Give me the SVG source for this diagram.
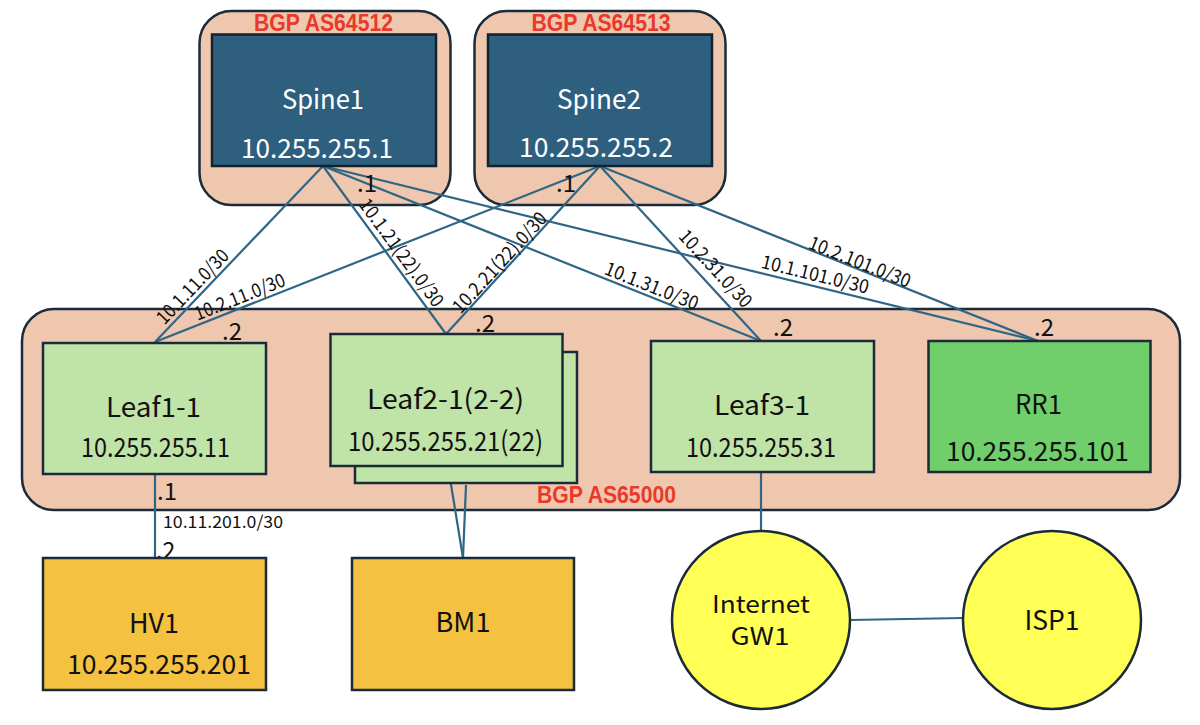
<svg xmlns="http://www.w3.org/2000/svg" width="1200" height="725" viewBox="0 0 1200 725">
<style>
.grp{fill:#EEC7AE;stroke:#1B2B3A;stroke-width:2.5}
.spine{fill:#2E5F7F;stroke:#14222E;stroke-width:2.5}
.leaf{fill:#C0E3A7;stroke:#1B2B3A;stroke-width:2.5}
.rr{fill:#70CF6A;stroke:#1B2B3A;stroke-width:2.5}
.srv{fill:#F4C141;stroke:#1B2B3A;stroke-width:2.5}
.ext{fill:#FFFF55;stroke:#1B2B3A;stroke-width:2.5}
.ln{stroke:#2F6585;stroke-width:2.2;fill:none}
text{font-family:'Noto Sans CJK JP','Noto Sans',sans-serif;fill:#111}
.as{font-family:'Liberation Sans',Arial,sans-serif;font-weight:bold;font-size:23px;fill:#E8392A;text-anchor:middle}
.nm{font-size:27px;text-anchor:middle}
.ip{font-size:27px;text-anchor:middle}
.gw{font-size:24px;text-anchor:middle}
.w{fill:#FFFFFF}
.sub{font-size:24px}
.el{font-size:19px;text-anchor:middle}
.el2{font-size:17px;text-anchor:middle}
</style>

<g id="as64512">
<rect class="grp" x="199.5" y="11" width="251" height="194" rx="32"/>
<text class="as" x="323.5" y="31" textLength="139" lengthAdjust="spacingAndGlyphs">BGP AS64512</text>
</g>
<g id="as64513">
<rect class="grp" x="474.5" y="11" width="251" height="194" rx="32"/>
<text class="as" x="601" y="31" textLength="139" lengthAdjust="spacingAndGlyphs">BGP AS64513</text>
</g>
<g id="as65000">
<rect class="grp" x="22" y="309" width="1158" height="201" rx="32"/>
<text class="as" x="606.5" y="503" textLength="139" lengthAdjust="spacingAndGlyphs">BGP AS65000</text>
</g>

<g id="connectors">
<line class="ln" x1="323" y1="166" x2="155" y2="342"/>
<line class="ln" x1="323" y1="166" x2="446" y2="334"/>
<line class="ln" x1="323" y1="166" x2="761" y2="341"/>
<line class="ln" x1="323" y1="166" x2="1038" y2="341"/>
<line class="ln" x1="600" y1="166" x2="155" y2="342"/>
<line class="ln" x1="600" y1="166" x2="446" y2="334"/>
<line class="ln" x1="600" y1="166" x2="761" y2="341"/>
<line class="ln" x1="600" y1="166" x2="1038" y2="341"/>
<line class="ln" x1="155" y1="474" x2="155" y2="558"/>
<line class="ln" x1="448" y1="466" x2="463" y2="558"/>
<line class="ln" x1="466" y1="485" x2="463" y2="558"/>
<line class="ln" x1="761" y1="472" x2="761" y2="531"/>
<line class="ln" x1="850" y1="620" x2="963" y2="618"/>
<text class="el" transform="translate(193,287) rotate(-46.3)" y="6" textLength="95" lengthAdjust="spacingAndGlyphs">10.1.11.0/30</text>
<text class="el" transform="translate(240,297.5) rotate(-21.6)" y="6" textLength="96" lengthAdjust="spacingAndGlyphs">10.2.11.0/30</text>
<text class="el" transform="translate(401,253) rotate(53.8)" y="6" textLength="129" lengthAdjust="spacingAndGlyphs">10.1.21(22).0/30</text>
<text class="el" transform="translate(500,263) rotate(-47.5)" y="6" textLength="129" lengthAdjust="spacingAndGlyphs">10.2.21(22).0/30</text>
<text class="el" transform="translate(651.5,286.5) rotate(21.8)" y="6" textLength="99" lengthAdjust="spacingAndGlyphs">10.1.31.0/30</text>
<text class="el" transform="translate(715,269) rotate(47.4)" y="6" textLength="98" lengthAdjust="spacingAndGlyphs">10.2.31.0/30</text>
<text class="el" transform="translate(815,275) rotate(13.75)" y="6" textLength="110" lengthAdjust="spacingAndGlyphs">10.1.101.0/30</text>
<text class="el" transform="translate(859.5,262.5) rotate(21.8)" y="6" textLength="108" lengthAdjust="spacingAndGlyphs">10.2.101.0/30</text>
<text class="el2" x="223" y="528" textLength="120" lengthAdjust="spacingAndGlyphs">10.11.201.0/30</text>
<text class="sub" x="357" y="192">.1</text>
<text class="sub" x="556" y="192">.1</text>
<text class="sub" x="222" y="340">.2</text>
<text class="sub" x="475" y="332">.2</text>
<text class="sub" x="773" y="336">.2</text>
<text class="sub" x="1034" y="336">.2</text>
<text class="sub" x="157" y="500">.1</text>
<text class="sub" x="156" y="559" style="font-size:23px">.2</text>
</g>

<g id="spine1">
<rect class="spine" x="212" y="34.5" width="224" height="131.5"/>
<text class="nm w" x="323" y="109" textLength="82" lengthAdjust="spacingAndGlyphs">Spine1</text>
<text class="ip w" x="317" y="158" textLength="152" lengthAdjust="spacingAndGlyphs">10.255.255.1</text>
</g>
<g id="spine2">
<rect class="spine" x="488" y="34.5" width="224" height="131.5"/>
<text class="nm w" x="599" y="109" textLength="84" lengthAdjust="spacingAndGlyphs">Spine2</text>
<text class="ip w" x="596" y="157" textLength="154" lengthAdjust="spacingAndGlyphs">10.255.255.2</text>
</g>

<g id="leaf1-1">
<rect class="leaf" x="43" y="343" width="223" height="131"/>
<text class="nm" x="153.5" y="417" textLength="95" lengthAdjust="spacingAndGlyphs">Leaf1-1</text>
<text class="ip" x="155.5" y="457" textLength="149" lengthAdjust="spacingAndGlyphs">10.255.255.11</text>
</g>
<g id="leaf2-1">
<rect class="leaf" x="355" y="352" width="222" height="131"/>
<rect class="leaf" x="330.5" y="334" width="232" height="132"/>
<text class="nm" x="445.5" y="409" textLength="157" lengthAdjust="spacingAndGlyphs">Leaf2-1(2-2)</text>
<text class="ip" x="445.5" y="451" textLength="195" lengthAdjust="spacingAndGlyphs">10.255.255.21(22)</text>
</g>
<g id="leaf3-1">
<rect class="leaf" x="651" y="341" width="223" height="131"/>
<text class="nm" x="762" y="415" textLength="96" lengthAdjust="spacingAndGlyphs">Leaf3-1</text>
<text class="ip" x="761" y="457" textLength="150" lengthAdjust="spacingAndGlyphs">10.255.255.31</text>
</g>
<g id="rr1">
<rect class="rr" x="928.5" y="341" width="222" height="131"/>
<text class="nm" x="1038.5" y="414" textLength="47" lengthAdjust="spacingAndGlyphs">RR1</text>
<text class="ip" x="1037.5" y="461" textLength="183" lengthAdjust="spacingAndGlyphs">10.255.255.101</text>
</g>

<g id="hv1">
<rect class="srv" x="43" y="558" width="223" height="132"/>
<text class="nm" x="154" y="633" textLength="50" lengthAdjust="spacingAndGlyphs">HV1</text>
<text class="ip" x="159" y="674" textLength="184" lengthAdjust="spacingAndGlyphs">10.255.255.201</text>
</g>
<g id="bm1">
<rect class="srv" x="352" y="558" width="222" height="132"/>
<text class="nm" x="463" y="632" textLength="55" lengthAdjust="spacingAndGlyphs">BM1</text>
</g>
<g id="internet-gw1">
<circle class="ext" cx="761" cy="620" r="89"/>
<text class="gw" x="761" y="613" textLength="98" lengthAdjust="spacingAndGlyphs">Internet</text>
<text class="gw" x="760" y="645" textLength="59" lengthAdjust="spacingAndGlyphs">GW1</text>
</g>
<g id="isp1">
<circle class="ext" cx="1052" cy="620" r="89"/>
<text class="nm" x="1052" y="630" textLength="55" lengthAdjust="spacingAndGlyphs">ISP1</text>
</g>
</svg>
